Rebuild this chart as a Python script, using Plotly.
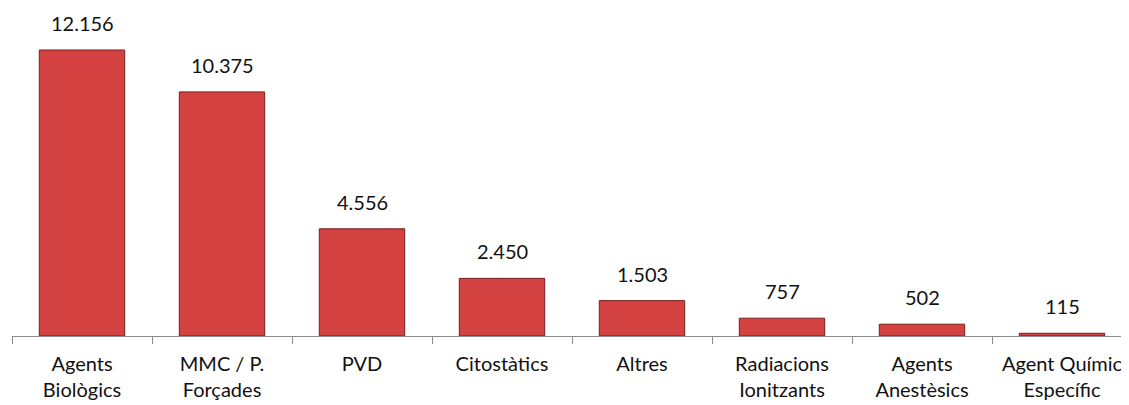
import plotly.graph_objects as go

categories = ["Agents<br>Biològics", "MMC / P.<br>Forçades", "PVD", "Citostàtics", "Altres",
              "Radiacions<br>Ionitzants", "Agents<br>Anestèsics", "Agent Químic<br>Específic"]
values = [12156, 10375, 4556, 2450, 1503, 757, 502, 115]

FONT = "Lato, 'Open Sans', sans-serif"

fig = go.Figure()
fig.add_trace(go.Bar(
    x=categories, y=values, width=0.61,
    marker=dict(color="#d44141", line=dict(color="#7a1c1c", width=1)),
    hoverinfo="x+y",
))

annotations = [
    dict(x=c, y=v, text=f"{v:,}".replace(",", "."), showarrow=False,
         yanchor="bottom", yshift=13, font=dict(family=FONT, size=20, color="#111"))
    for c, v in zip(categories, values)
]

fig.update_layout(
    width=1129, height=405,
    margin=dict(l=4, r=5, t=0, b=77),
    plot_bgcolor="white", paper_bgcolor="white",
    showlegend=False,
    annotations=annotations,
    xaxis=dict(
        showline=True, linecolor="#8c8c8c", linewidth=1,
        ticks="outside", tickson="boundaries", ticklen=7, tickcolor="#8c8c8c",
        tickfont=dict(family=FONT, size=20, color="#111"),
        ticklabelstandoff=10,
        showgrid=False, fixedrange=True, automargin=False,
    ),
    yaxis=dict(range=[0, 13941], visible=False, showgrid=False, fixedrange=True),
)

fig.write_html("out.html")
